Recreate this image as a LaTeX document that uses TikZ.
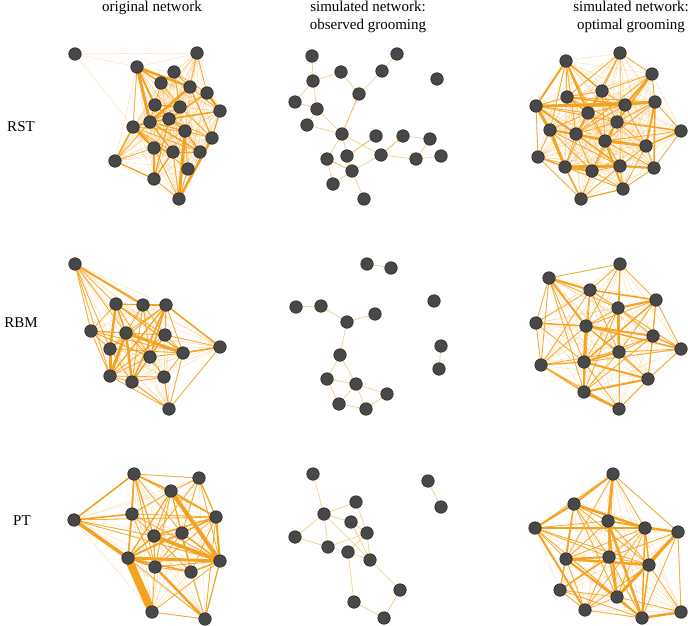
\documentclass[tikz,border=0pt]{standalone}
\usepackage{fontspec}
\setmainfont{Liberation Serif}
\pgfdeclarelayer{bg}
\pgfsetlayers{bg,main}
\definecolor{edge}{RGB}{245,162,32}
\definecolor{pale}{RGB}{245,205,135}
\definecolor{nodefill}{RGB}{72,72,72}
\definecolor{nodeline}{RGB}{38,38,38}
\tikzset{
 nd/.style={circle,fill=nodefill,draw=nodeline,line width=0.6pt,minimum size=12.5pt,inner sep=0pt},
 faint/.style={draw=edge,line width=0.3pt,opacity=0.45},
 med/.style={draw=edge,line width=0.9pt,opacity=0.85},
 thk/.style={draw=edge},
 sparse/.style={draw=pale,line width=0.7pt},
 sparsem/.style={draw=edge!75,line width=0.9pt},
 lbl/.style={font=\fontsize{15}{17}\selectfont,inner sep=0pt,anchor=base},
}
\newcommand\allpairs[3]{\foreach \i in {#2,...,#3}{\foreach \j in {#2,...,#3}{\ifnum\i<\j \draw[faint] (#1\i.center) -- (#1\j.center);\fi}}}
\newcommand\medlist[2]{\foreach \a/\b in {#2} \draw[med] (#1\a.center) -- (#1\b.center);}
\newcommand\thklist[2]{\foreach \a/\b/\w in {#2} \draw[thk,line width=\w pt] (#1\a.center) -- (#1\b.center);}
\newcommand\splist[3]{\foreach \a/\b in {#3} \draw[#2] (#1\a.center) -- (#1\b.center);}
\begin{document}
\begin{tikzpicture}[x=1pt,y=-1pt]
\useasboundingbox (0,0) rectangle (688,626);
% titles
\node[lbl] (t1) at (152,12) {original network};
\node[lbl] (t2) at (368,12) {simulated network:};
\node[lbl] (t3) at (368,30) {observed grooming};
\node[lbl] (t4) at (631,12) {simulated network:};
\node[lbl] (t5) at (631,30) {optimal grooming};
\node[lbl] (r1) at (21,131) {RST};
\node[lbl] (r2) at (21,327) {RBM};
\node[lbl] (r3) at (22,525) {PT};
% ---------- nodes ----------
\foreach \n/\x/\y in {1/75/54,2/197/53,3/137/67,4/174/72,5/161/83,6/190/87,7/207/93,8/155/105,9/180/107,10/220/111,11/169/119,12/150/122,13/133/127,14/185/131,15/212/138,16/154/148,17/173/152,18/200/152,19/115/161,20/188/169,21/154/179,22/179/199}
  \node[nd] (A\n) at (\x,\y) {};
\foreach \n/\x/\y in {1/312/56,2/397/54,3/341/72,4/382/71,5/437/79,6/313/81,7/295/102,8/359/94,9/317/109,10/307/125,11/342/134,12/376/136,13/403/136,14/430/139,15/441/156,16/416/159,17/381/155,18/327/159,19/347/156,20/352/171,21/333/184,22/364/199}
  \node[nd] (B\n) at (\x,\y) {};
\foreach \n/\x/\y in {1/620/53,2/566/61,3/652/74,4/602/91,5/567/97,6/536/106,7/625/105,8/655/102,9/588/113,10/617/122,11/550/130,12/576/134,13/681/131,14/605/141,15/646/146,16/538/157,17/565/167,18/592/171,19/620/166,20/654/168,21/623/189,22/581/199}
  \node[nd] (C\n) at (\x,\y) {};
\foreach \n/\x/\y in {1/75/264,2/116/304,3/143/305,4/166/305,5/91/331,6/126/333,7/165/335,8/110/349,9/150/357,10/183/353,11/220/347,12/110/376,13/132/382,14/164/377,15/169/409}
  \node[nd] (D\n) at (\x,\y) {};
\foreach \n/\x/\y in {1/367/264,2/391/268,3/296/307,4/321/306,5/434/301,6/375/314,7/347/322,8/441/346,9/439/369,10/340/355,11/327/379,12/356/384,13/387/394,14/339/404,15/366/409}
  \node[nd] (E\n) at (\x,\y) {};
\foreach \n/\x/\y in {1/620/264,2/549/278,3/590/290,4/618/308,5/656/300,6/536/323,7/586/326,8/653/336,9/681/349,10/619/352,11/584/362,12/541/365,13/648/379,14/584/392,15/619/409}
  \node[nd] (F\n) at (\x,\y) {};
\foreach \n/\x/\y in {1/134/474,2/199/478,3/171/491,4/74/520,5/132/514,6/216/517,7/154/536,8/182/533,9/128/558,10/155/567,11/220/561,12/191/572,13/152/612,14/205/619}
  \node[nd] (G\n) at (\x,\y) {};
\foreach \n/\x/\y in {1/313/474,2/428/481,3/356/502,4/324/514,5/351/522,6/441/507,7/295/537,8/367/533,9/328/547,10/348/552,11/370/560,12/400/590,13/354/602,14/384/618}
  \node[nd] (H\n) at (\x,\y) {};
\foreach \n/\x/\y in {1/613/474,2/574/504,3/608/521,4/535/528,5/645/528,6/678/532,7/566/559,8/609/557,9/649/565,10/560/590,11/617/597,12/585/610,13/642/618,14/681/612}
  \node[nd] (K\n) at (\x,\y) {};
% ---------- edges ----------
\begin{pgfonlayer}{bg}
% panel A
\allpairs{A}{2}{22}
\foreach \b in {2,3,13} \draw[faint] (A1.center) -- (A\b.center);
\medlist{A}{3/13,13/17,13/20,16/17,17/18,8/14,5/9,4/6,6/10,9/15,11/14,14/20,16/22,19/16,12/14,8/11,2/7,2/6,4/7,11/15,12/15,13/18,21/22,20/22,17/22,5/12,4/9,9/12,13/14,19/12}
\thklist{A}{3/12/3,3/6/2.6,12/6/2.6,7/10/2.6,13/16/2.6,16/21/2.6,22/14/3,22/15/2.6,3/8/2,11/7/1.5,13/19/1.5,19/21/1.3,21/17/1.3,13/12/1.6,12/18/1.5,14/18/1.5,10/15/1.3,6/15/1.3,12/17/1.3,11/21/1.3,3/5/1.6,8/9/1.6,12/10/1.6}
% panel B
\splist{B}{sparse}{1/6,6/3,6/7,6/9,7/9,9/10,3/8,8/4,4/2,9/11,10/11,11/18,11/19,11/17,19/20,20/17,20/21,20/22,18/21,17/16,16/15,14/13,14/16}
\splist{B}{sparsem}{8/11,18/20,13/17,19/12}
% panel C
\allpairs{C}{1}{22}
\medlist{C}{2/5,2/11,2/12,2/14,1/3,1/4,1/9,1/5,3/4,3/8,3/12,4/5,4/7,4/10,4/14,5/6,5/8,5/10,6/9,6/16,6/10,7/9,7/10,7/12,7/15,8/10,8/14,9/11,9/14,9/17,10/12,10/15,10/18,11/14,11/16,11/18,12/15,12/17,12/18,13/8,13/14,13/20,14/18,14/19,14/20,15/19,15/20,15/21,16/18,17/21,18/19,18/21,19/21,20/21,22/18,22/19,16/22,11/19}
\thklist{C}{6/11/3,11/17/3,6/2/2,6/7/2.5,6/8/2,6/12/2,11/12/2,12/14/2,14/15/2.5,17/19/3,17/18/2.5,19/20/2,2/9/2,2/4/1.5,3/10/1.5,3/7/2,7/8/2,8/15/2,13/15/1.5,10/14/1.5,14/21/2,16/17/1.5,22/17/1.5,22/21/1.2,5/9/1.5,4/9/2,9/12/1.5,10/13/1.5,12/19/1.5,5/7/1.5,8/20/1.5}
% panel D
\allpairs{D}{1}{15}
\medlist{D}{1/2,1/5,1/6,1/8,1/12,2/3,2/4,2/5,2/7,2/9,3/6,3/7,3/9,3/13,4/6,4/7,4/8,4/10,5/8,5/10,5/12,6/7,6/8,6/9,7/9,7/10,7/12,8/10,8/13,9/10,9/12,9/13,9/14,10/14,10/15,11/15,12/13,12/14,13/14,12/15,7/11}
\thklist{D}{1/3/2,3/4/2.6,2/8/2.4,8/12/3,6/12/3,6/13/2.4,6/10/3,4/11/1.6,10/11/1.6,4/13/1.6,4/9/1.5,5/6/1.2,2/6/1.5,2/10/1.2,7/13/1.2,4/12/1.3,13/15/1,14/15/1,5/9/1}
% panel E
\splist{E}{sparse}{1/2,3/4,4/7,7/6,7/10,10/11,10/12,11/12,11/14,12/14,12/15,12/13,13/15,14/15,8/9}
% panel F
\allpairs{F}{1}{15}
\medlist{F}{1/2,1/3,1/4,1/5,1/7,1/10,2/4,2/6,2/11,2/12,3/4,3/7,3/10,3/12,3/14,4/7,4/8,4/11,4/9,5/7,5/8,5/9,5/10,5/13,6/7,6/11,6/12,6/3,7/10,7/12,7/14,7/13,8/10,8/11,8/13,8/14,9/10,9/13,10/12,10/13,10/14,10/15,11/15,12/15,13/15,9/11,2/14,4/14}
\thklist{F}{2/3/2,2/7/2,4/5/2,4/10/2.5,7/11/2.5,11/14/1.5,14/15/2.5,14/13/2,7/8/2,11/13/2,12/14/1.5,10/11/1.5,3/5/1.5,5/11/1.5,7/9/1.5,8/9/1.2,6/7/1.2,12/11/1.2}
% panel G
\allpairs{G}{1}{14}
\medlist{G}{1/2,1/5,1/6,1/8,1/9,1/10,2/3,2/8,2/7,3/5,3/7,3/8,3/10,3/12,4/7,4/6,4/11,5/6,5/7,5/10,5/11,6/8,6/10,6/12,6/14,7/8,7/10,7/12,8/9,8/10,8/12,9/14,10/11,10/12,10/13,11/13,12/14,13/14,2/11}
\thklist{G}{9/13/8,4/9/3.5,3/11/4,7/11/3.5,9/11/3,1/4/1.6,4/5/1.6,1/3/1.6,10/14/2.5,9/10/2,6/11/2,1/5/1.5,5/9/1.5,6/7/1.5,3/6/1.5,7/9/1.5,9/8/1.5,8/11/1.5,12/11/1.5,9/12/1.5,2/6/1.2,6/9/1.5,11/14/1.2,3/9/1.2,1/7/1.2}
% panel H
\splist{H}{sparse}{1/4,4/3,4/5,4/7,4/9,4/11,3/8,5/8,7/9,9/10,9/8,10/8,10/11,8/11,10/13,11/12,12/14,13/14,2/6,5/11}
% panel K
\allpairs{K}{1}{14}
\medlist{K}{1/4,1/5,1/6,1/7,1/8,2/3,2/8,2/9,2/10,3/4,3/5,3/7,3/9,4/7,4/8,4/9,4/11,5/7,5/8,5/11,5/12,6/8,6/13,6/14,7/10,7/11,7/12,8/9,8/12,8/13,9/11,9/12,9/14,10/11,10/12,10/13,11/12,11/14,12/13,3/8,2/11}
\thklist{K}{1/3/2.5,1/2/2,2/4/2,2/5/2.5,4/5/2,5/6/2,3/6/1.5,6/11/3,6/9/2,3/13/2.5,3/11/2,7/9/2.5,7/8/2,4/12/2,7/13/2,13/14/2.5,11/13/1.5,10/8/1.5,8/11/1.5,5/13/1.5,2/7/1.5,9/13/1.5,5/9/1.5}
\end{pgfonlayer}
\end{tikzpicture}
\end{document}
